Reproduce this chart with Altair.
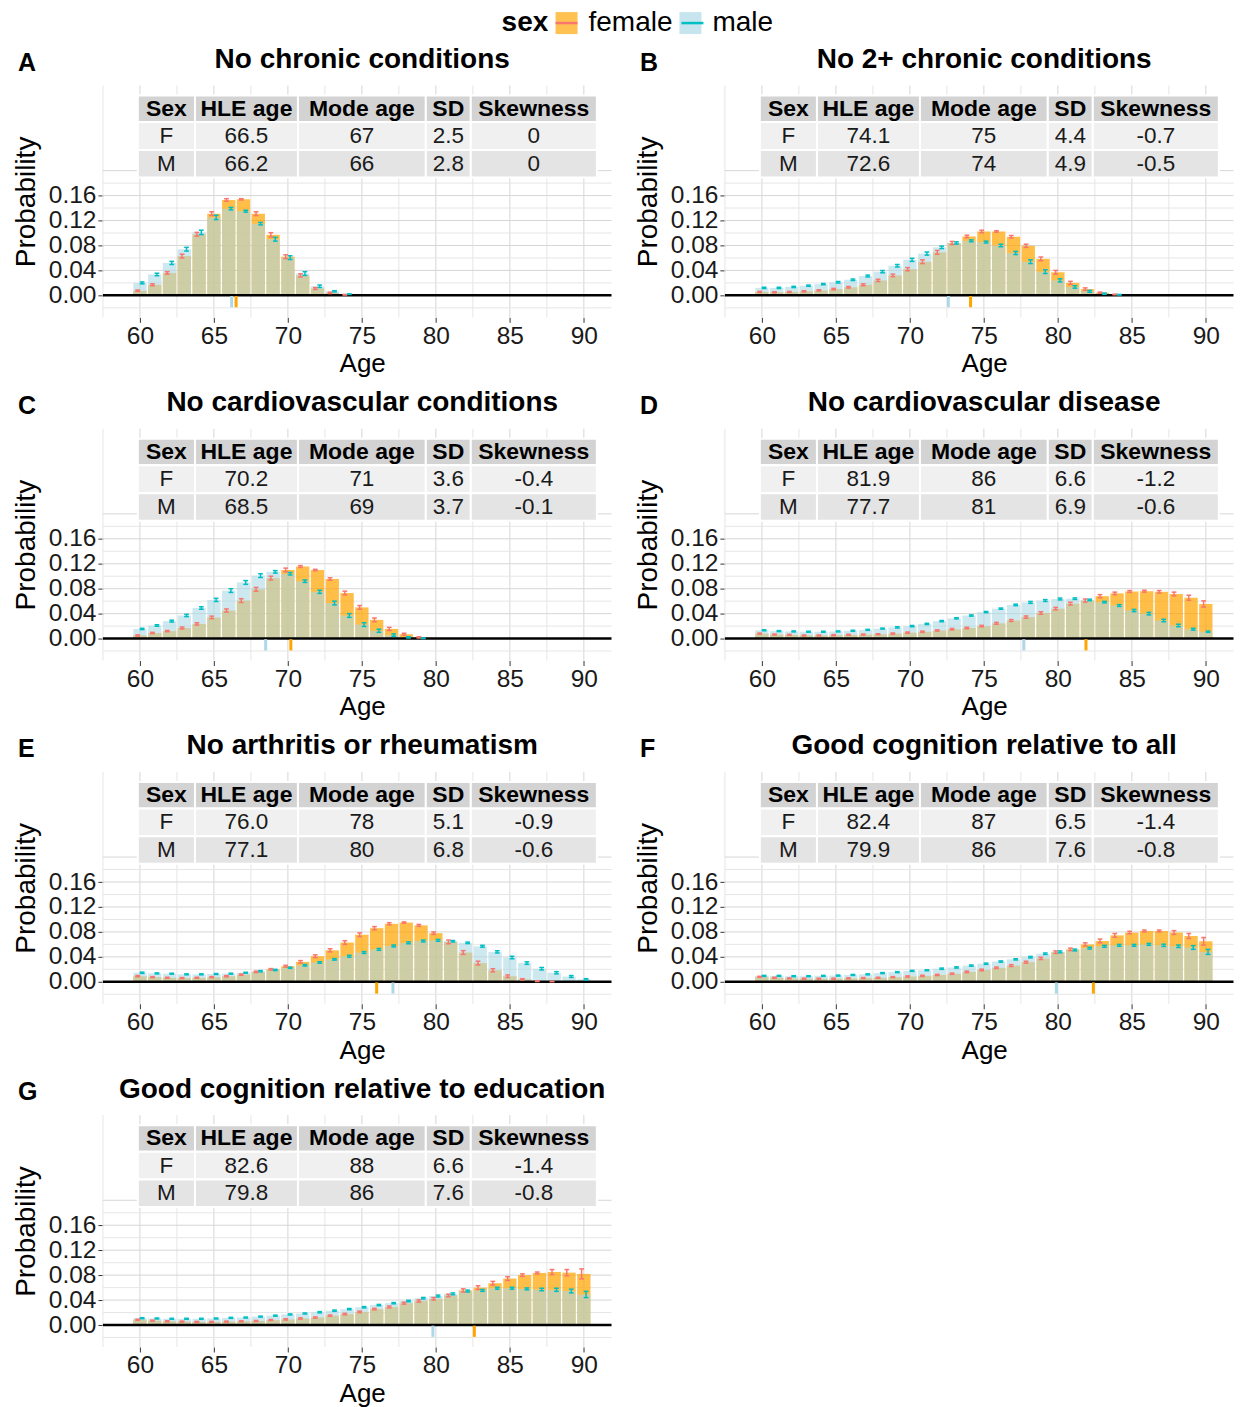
import altair as alt
import pandas as pd

FONT = "Liberation Sans"

# ---------------- data ----------------
AGES = list(range(60, 91))
SEXES = ["female", "male"]
TABLE_HEADER = ["Sex", "HLE age", "Mode age", "SD", "Skewness"]

PANEL_IDS = ["A", "B", "C", "D", "E", "F", "G"]
PANEL_TITLES = [
    "No chronic conditions",
    "No 2+ chronic conditions",
    "No cardiovascular conditions",
    "No cardiovascular disease",
    "No arthritis or rheumatism",
    "Good cognition relative to all",
    "Good cognition relative to education",
]

A_F = [0.0075, 0.017, 0.036, 0.063, 0.098, 0.131, 0.153, 0.154, 0.131, 0.097, 0.062, 0.032, 0.011, 0.004, 0.001, 0, 0, 0, 0, 0, 0, 0, 0, 0, 0, 0, 0, 0, 0, 0, 0]
A_M = [0.020, 0.0335, 0.052, 0.074, 0.101, 0.125, 0.139, 0.135, 0.115, 0.090, 0.0605, 0.035, 0.0146, 0.0065, 0.002, 0, 0, 0, 0, 0, 0, 0, 0, 0, 0, 0, 0, 0, 0, 0, 0]
A_FE = [0.001, 0.0015, 0.002, 0.003, 0.003, 0.003, 0.002, 0.001, 0.003, 0.0035, 0.003, 0.0025, 0.0015, 0.001, 0.0005, 0, 0, 0, 0, 0, 0, 0, 0, 0, 0, 0, 0, 0, 0, 0, 0]
A_ME = [0.0015, 0.002, 0.0025, 0.003, 0.0035, 0.0035, 0.002, 0.0015, 0.002, 0.003, 0.003, 0.003, 0.002, 0.001, 0.0005, 0, 0, 0, 0, 0, 0, 0, 0, 0, 0, 0, 0, 0, 0, 0, 0]
A_TAB_F = ["F", "66.5", "67", "2.5", "0"]
A_TAB_M = ["M", "66.2", "66", "2.8", "0"]

B_F = [0.0055, 0.005, 0.0055, 0.0065, 0.008, 0.010, 0.013, 0.017, 0.024, 0.032, 0.042, 0.054, 0.069, 0.084, 0.0945, 0.1025, 0.1025, 0.094, 0.0795, 0.0585, 0.037, 0.020, 0.010, 0.0043, 0.0015, 0, 0, 0, 0, 0, 0]
B_M = [0.012, 0.012, 0.0135, 0.0155, 0.018, 0.021, 0.025, 0.031, 0.038, 0.0475, 0.057, 0.067, 0.077, 0.084, 0.0875, 0.0855, 0.080, 0.068, 0.054, 0.038, 0.024, 0.0135, 0.0065, 0.0027, 0.001, 0, 0, 0, 0, 0, 0]
B_FE = [0.0008, 0.0008, 0.0008, 0.001, 0.001, 0.0012, 0.0012, 0.0015, 0.0018, 0.002, 0.0025, 0.003, 0.003, 0.0025, 0.002, 0.002, 0.0012, 0.002, 0.0025, 0.003, 0.003, 0.0025, 0.002, 0.001, 0.0005, 0, 0, 0, 0, 0, 0]
B_ME = [0.001, 0.001, 0.001, 0.001, 0.001, 0.0012, 0.0012, 0.0015, 0.0018, 0.002, 0.0025, 0.0025, 0.002, 0.0018, 0.0015, 0.0015, 0.002, 0.0025, 0.003, 0.003, 0.0025, 0.002, 0.0015, 0.001, 0.0005, 0, 0, 0, 0, 0, 0]
B_TAB_F = ["F", "74.1", "75", "4.4", "-0.7"]
B_TAB_M = ["M", "72.6", "74", "4.9", "-0.5"]

C_F = [0.005, 0.009, 0.012, 0.017, 0.0235, 0.034, 0.045, 0.061, 0.079, 0.097, 0.110, 0.1155, 0.110, 0.0955, 0.073, 0.050, 0.030, 0.0155, 0.007, 0.002, 0, 0, 0, 0, 0, 0, 0, 0, 0, 0, 0]
C_M = [0.0155, 0.021, 0.028, 0.037, 0.049, 0.062, 0.077, 0.090, 0.101, 0.107, 0.104, 0.092, 0.075, 0.057, 0.037, 0.0225, 0.0125, 0.0055, 0.002, 0.0005, 0, 0, 0, 0, 0, 0, 0, 0, 0, 0, 0]
C_FE = [0.001, 0.001, 0.001, 0.0015, 0.0018, 0.002, 0.0025, 0.003, 0.003, 0.003, 0.003, 0.0015, 0.001, 0.002, 0.003, 0.003, 0.003, 0.0025, 0.0015, 0.001, 0, 0, 0, 0, 0, 0, 0, 0, 0, 0, 0]
C_ME = [0.001, 0.0012, 0.0015, 0.0018, 0.002, 0.0025, 0.003, 0.003, 0.003, 0.002, 0.002, 0.002, 0.0025, 0.003, 0.003, 0.003, 0.0025, 0.002, 0.001, 0.0005, 0, 0, 0, 0, 0, 0, 0, 0, 0, 0, 0]
C_TAB_F = ["F", "70.2", "71", "3.6", "-0.4"]
C_TAB_M = ["M", "68.5", "69", "3.7", "-0.1"]

D_F = [0.008, 0.0065, 0.006, 0.005, 0.005, 0.0055, 0.006, 0.0065, 0.007, 0.008, 0.0095, 0.011, 0.013, 0.015, 0.017, 0.020, 0.0245, 0.029, 0.0345, 0.041, 0.048, 0.056, 0.061, 0.068, 0.0725, 0.0755, 0.076, 0.075, 0.0715, 0.0655, 0.0555]
D_M = [0.0133, 0.012, 0.0115, 0.011, 0.011, 0.0115, 0.0125, 0.014, 0.016, 0.018, 0.020, 0.0235, 0.028, 0.0325, 0.037, 0.0425, 0.048, 0.054, 0.058, 0.061, 0.0635, 0.064, 0.062, 0.0585, 0.053, 0.045, 0.040, 0.029, 0.021, 0.015, 0.011]
D_FE = [0.0008, 0.0008, 0.0008, 0.0008, 0.0008, 0.0008, 0.0008, 0.0008, 0.0008, 0.001, 0.001, 0.001, 0.001, 0.0012, 0.0012, 0.0012, 0.0015, 0.0015, 0.0018, 0.002, 0.002, 0.0022, 0.0025, 0.0025, 0.002, 0.0015, 0.0015, 0.002, 0.003, 0.004, 0.005]
D_ME = [0.0008, 0.0008, 0.0008, 0.0008, 0.0008, 0.0008, 0.0008, 0.0008, 0.0008, 0.001, 0.001, 0.001, 0.001, 0.001, 0.001, 0.001, 0.001, 0.0012, 0.0015, 0.0015, 0.0015, 0.0012, 0.0012, 0.0012, 0.0015, 0.0018, 0.002, 0.002, 0.002, 0.0015, 0.001]
D_TAB_F = ["F", "81.9", "86", "6.6", "-1.2"]
D_TAB_M = ["M", "77.7", "81", "6.9", "-0.6"]

E_F = [0.009, 0.0075, 0.0065, 0.006, 0.0065, 0.0075, 0.009, 0.0115, 0.016, 0.020, 0.025, 0.032, 0.041, 0.0505, 0.063, 0.0755, 0.086, 0.093, 0.095, 0.0905, 0.078, 0.064, 0.047, 0.030, 0.0185, 0.009, 0.004, 0.001, 0.0005, 0, 0]
E_M = [0.0145, 0.0135, 0.013, 0.012, 0.012, 0.0125, 0.013, 0.0145, 0.017, 0.019, 0.0225, 0.0265, 0.031, 0.036, 0.041, 0.047, 0.052, 0.0575, 0.0625, 0.0655, 0.0665, 0.065, 0.0625, 0.057, 0.048, 0.039, 0.030, 0.021, 0.0145, 0.0085, 0.004]
E_FE = [0.001, 0.0008, 0.0008, 0.0008, 0.0008, 0.0008, 0.001, 0.001, 0.0012, 0.0012, 0.0015, 0.002, 0.0022, 0.0025, 0.003, 0.003, 0.0025, 0.0018, 0.001, 0.0015, 0.002, 0.003, 0.003, 0.003, 0.0025, 0.002, 0.001, 0.0005, 0.0003, 0, 0]
E_ME = [0.001, 0.0008, 0.0008, 0.0008, 0.0008, 0.0008, 0.0008, 0.0008, 0.001, 0.001, 0.001, 0.0012, 0.0012, 0.0012, 0.0015, 0.0015, 0.0015, 0.0015, 0.0015, 0.0015, 0.0015, 0.0012, 0.0012, 0.0015, 0.0018, 0.002, 0.002, 0.002, 0.0018, 0.0015, 0.001]
E_TAB_F = ["F", "76.0", "78", "5.1", "-0.9"]
E_TAB_M = ["M", "77.1", "80", "6.8", "-0.6"]

F_F = [0.008, 0.0065, 0.0055, 0.005, 0.005, 0.005, 0.0055, 0.006, 0.0065, 0.0075, 0.0085, 0.0095, 0.011, 0.013, 0.016, 0.019, 0.0225, 0.026, 0.0315, 0.0375, 0.0475, 0.052, 0.060, 0.0655, 0.0745, 0.079, 0.0815, 0.0815, 0.079, 0.0735, 0.065]
F_M = [0.0095, 0.0095, 0.009, 0.009, 0.0095, 0.010, 0.011, 0.012, 0.014, 0.0155, 0.0175, 0.0185, 0.021, 0.023, 0.026, 0.029, 0.0325, 0.036, 0.0395, 0.045, 0.048, 0.051, 0.054, 0.057, 0.0585, 0.0585, 0.060, 0.0585, 0.057, 0.055, 0.048]
F_FE = [0.0008, 0.0008, 0.0008, 0.0008, 0.0008, 0.0008, 0.0008, 0.0008, 0.0008, 0.0008, 0.001, 0.001, 0.001, 0.001, 0.0012, 0.0012, 0.0012, 0.0015, 0.0015, 0.0018, 0.002, 0.002, 0.0025, 0.003, 0.003, 0.002, 0.0015, 0.0015, 0.003, 0.004, 0.006]
F_ME = [0.0008, 0.0008, 0.0008, 0.0008, 0.0008, 0.0008, 0.0008, 0.0008, 0.0008, 0.0008, 0.0008, 0.0008, 0.001, 0.001, 0.001, 0.001, 0.001, 0.001, 0.0012, 0.0012, 0.0015, 0.0015, 0.0015, 0.0015, 0.0015, 0.0015, 0.0015, 0.0018, 0.002, 0.003, 0.004]
F_TAB_F = ["F", "82.4", "87", "6.5", "-1.4"]
F_TAB_M = ["M", "79.9", "86", "7.6", "-0.8"]

G_F = [0.0085, 0.007, 0.006, 0.0055, 0.005, 0.005, 0.0055, 0.006, 0.0065, 0.008, 0.009, 0.0105, 0.012, 0.015, 0.0175, 0.021, 0.0255, 0.029, 0.035, 0.0385, 0.042, 0.0475, 0.0555, 0.060, 0.067, 0.0745, 0.080, 0.0835, 0.085, 0.084, 0.082]
G_M = [0.011, 0.0105, 0.010, 0.010, 0.010, 0.0105, 0.0115, 0.012, 0.0135, 0.015, 0.017, 0.0185, 0.0205, 0.023, 0.0255, 0.0285, 0.032, 0.035, 0.0385, 0.043, 0.0465, 0.050, 0.0545, 0.0555, 0.059, 0.059, 0.058, 0.057, 0.0565, 0.0545, 0.049]
G_FE = [0.0008, 0.0008, 0.0008, 0.0008, 0.0008, 0.0008, 0.0008, 0.0008, 0.0008, 0.0008, 0.001, 0.001, 0.001, 0.001, 0.0012, 0.0012, 0.0012, 0.0015, 0.0015, 0.0018, 0.002, 0.002, 0.0025, 0.003, 0.003, 0.003, 0.002, 0.0015, 0.004, 0.005, 0.008]
G_ME = [0.0008, 0.0008, 0.0008, 0.0008, 0.0008, 0.0008, 0.0008, 0.0008, 0.0008, 0.0008, 0.0008, 0.0008, 0.001, 0.001, 0.001, 0.001, 0.001, 0.001, 0.0012, 0.0012, 0.0015, 0.0015, 0.0015, 0.0015, 0.0015, 0.0015, 0.0015, 0.002, 0.0025, 0.003, 0.005]
G_TAB_F = ["F", "82.6", "88", "6.6", "-1.4"]
G_TAB_M = ["M", "79.8", "86", "7.6", "-0.8"]

# ---------------- layout / style ----------------
PLOT_W = 509
PLOT_H = 232
CENTER_X = 259.5  # horizontal centre used by the reference panels
X_DOMAIN = [57.5, 91.87]
Y_DOMAIN = [-0.0352, 0.3365]
X_TICKS = [60, 65, 70, 75, 80, 85, 90]
X_MINOR = [57.5, 62.5, 67.5, 72.5, 77.5, 82.5, 87.5]
Y_TICKS = [0.0, 0.04, 0.08, 0.12, 0.16]
Y_GRID_MAJOR = [0.04, 0.08, 0.12, 0.16, 0.20]
Y_GRID_MINOR = [-0.02, 0.02, 0.06, 0.10, 0.14, 0.18]
COL_EDGES = [59.86, 63.72, 70.68, 79.32, 82.36, 90.88]
ROW_EDGES = [0.3205, 0.2780, 0.2332, 0.1891]
ROW_TEXT_Y = [0.2995, 0.2556, 0.2110]
TABLE_FILLS = ["#D3D3D3", "#F0F0F0", "#E4E4E4"]
BAR_HALF = 0.45
DODGE = 0.15
CAP_HALF = 0.16

ORANGE = "#FFA500"
LIGHTBLUE = "#ADD8E6"
ERR_F = "#F8766D"
ERR_M = "#00BFC4"
GRID_MAJOR = "#D6D6D6"
GRID_MINOR = "#E6E6E6"

H_SPACING = 20.5
V_SPACING = 11.5
LEG_X = 399
LEG_Y = -76.5

FILL_SCALE = alt.Scale(domain=SEXES, range=[ORANGE, LIGHTBLUE])
STROKE_SCALE = alt.Scale(range=[ERR_F, ERR_M])
LEG_COMMON = dict(
    orient="none", legendX=LEG_X, legendY=LEG_Y, direction="horizontal",
    title="sex", titleOrient="left", titleFont=FONT, titleFontSize=28,
    titleFontWeight="bold", titleColor="black", titlePadding=4,
    labelFont=FONT, labelFontSize=28, labelColor="black", labelOffset=8,
    columnPadding=3, symbolSize=484,
)
FILL_LEGEND = alt.Legend(symbolType="square", symbolOpacity=0.68, symbolStrokeWidth=0, **LEG_COMMON)
STROKE_LEGEND = alt.Legend(symbolType="stroke", symbolStrokeWidth=2.5, labelOpacity=0, titleOpacity=0, **LEG_COMMON)


def make_panel(pid, title, fem, mal, fem_err, mal_err, tab_f, tab_m):
    assert len(fem) == len(mal) == len(fem_err) == len(mal_err) == len(AGES)
    xs = alt.Scale(domain=X_DOMAIN, nice=False, zero=False)
    ys = alt.Scale(domain=Y_DOMAIN, nice=False, zero=False)
    xax = alt.Axis(values=X_TICKS, title="Age", grid=False, domain=False, labelOverlap=False,
                   titleX=CENTER_X)
    yax = alt.Axis(values=Y_TICKS, format=".2f", title="Probability", grid=False,
                   domain=False, labelOverlap=False)

    def X(f):
        return alt.X(f, scale=xs, axis=xax)

    def Y(f):
        return alt.Y(f, scale=ys, axis=yax)

    layers = []
    # grid lines
    for vals, col in [(X_MINOR, GRID_MINOR), (X_TICKS, GRID_MAJOR)]:
        layers.append(alt.Chart(pd.DataFrame({"v": vals})).mark_rule(color=col, strokeWidth=1)
                      .encode(x=X("v:Q")))
    for vals, col in [(Y_GRID_MINOR, GRID_MINOR), (Y_GRID_MAJOR, GRID_MAJOR)]:
        layers.append(alt.Chart(pd.DataFrame({"v": vals})).mark_rule(color=col, strokeWidth=1)
                      .encode(y=Y("v:Q")))

    # summary table
    cells = []
    for r, row in enumerate([TABLE_HEADER, tab_f, tab_m]):
        for c, txt in enumerate(row):
            cells.append(dict(r=r, txt=txt, x0=COL_EDGES[c], x1=COL_EDGES[c + 1],
                              y0=ROW_EDGES[r + 1], y1=ROW_EDGES[r],
                              xc=(COL_EDGES[c] + COL_EDGES[c + 1]) / 2, yc=ROW_TEXT_Y[r]))
    cdf = pd.DataFrame(cells)
    for r, fillc in enumerate(TABLE_FILLS):
        layers.append(alt.Chart(cdf[cdf.r == r]).mark_rect(fill=fillc, stroke="white", strokeWidth=2)
                      .encode(x=X("x0:Q"), x2="x1:Q", y=Y("y0:Q"), y2="y1:Q"))
    layers.append(alt.Chart(cdf[cdf.r == 0]).mark_text(font=FONT, fontSize=23, fontWeight="bold",
                                                       color="black", baseline="middle")
                  .encode(x=X("xc:Q"), y=Y("yc:Q"), text="txt:N"))
    layers.append(alt.Chart(cdf[cdf.r > 0]).mark_text(font=FONT, fontSize=22.5, color="#1a1a1a",
                                                      baseline="middle")
                  .encode(x=X("xc:Q"), y=Y("yc:Q"), text="txt:N"))

    # bars (female first, male drawn on top)
    n = len(AGES)
    bars = pd.DataFrame({
        "age": AGES * 2,
        "sex": ["female"] * n + ["male"] * n,
        "p": fem + mal,
        "err": fem_err + mal_err,
    })
    layers.append(
        alt.Chart(bars)
        .transform_calculate(x0=f"datum.age - {BAR_HALF}", x1=f"datum.age + {BAR_HALF}")
        .mark_bar(strokeWidth=0)
        .encode(x=X("x0:Q"), x2="x1:Q", y=Y("p:Q"), y2=alt.datum(0),
                fill=alt.Fill("sex:N", scale=FILL_SCALE, legend=FILL_LEGEND),
                fillOpacity=alt.condition("datum.sex == 'female'", alt.value(0.72), alt.value(0.6)))
    )

    # zero line
    layers.append(alt.Chart(pd.DataFrame({"z": [0.0]})).mark_rule(color="black", strokeWidth=2.5)
                  .encode(y=Y("z:Q")))

    # error bars
    eb = (alt.Chart(bars).transform_filter("datum.p > 0")
          .transform_calculate(xe=f"datum.age + (datum.sex == 'female' ? {-DODGE} : {DODGE})")
          .transform_calculate(lo="datum.p - datum.err", hi="datum.p + datum.err")
          .transform_calculate(cl=f"datum.xe - {CAP_HALF}", cr=f"datum.xe + {CAP_HALF}"))
    stroke = alt.Stroke("sex:N", scale=STROKE_SCALE, legend=STROKE_LEGEND)
    layers.append(eb.mark_rule(strokeWidth=1.5).encode(x=X("xe:Q"), y=Y("lo:Q"), y2="hi:Q", stroke=stroke))
    layers.append(eb.mark_rule(strokeWidth=1.5).encode(x=X("cl:Q"), x2="cr:Q", y=Y("lo:Q"), stroke=stroke))
    layers.append(eb.mark_rule(strokeWidth=1.5).encode(x=X("cr:Q"), x2="cl:Q", y=Y("hi:Q"), stroke=stroke))

    # HLE rug marks
    rug = pd.DataFrame({"hle": [float(tab_f[1]), float(tab_m[1])], "sex": SEXES})
    layers.append(
        alt.Chart(rug).mark_rule(strokeWidth=3)
        .encode(x=X("hle:Q"), y=alt.datum(-0.001), y2=alt.datum(-0.019),
                stroke=alt.condition("datum.sex == 'female'", alt.value(ORANGE), alt.value(LIGHTBLUE)))
    )

    # panel title and letter
    layers.append(alt.Chart(pd.DataFrame({"t": [title]}))
                  .mark_text(font=FONT, fontSize=28, fontWeight="bold", color="black",
                             align="center", baseline="middle")
                  .encode(text="t:N", x=alt.value(CENTER_X), y=alt.value(-25.5)))
    layers.append(alt.Chart(pd.DataFrame({"t": [pid]}))
                  .mark_text(font=FONT, fontSize=25, fontWeight="bold", color="black",
                             align="left", baseline="middle")
                  .encode(text="t:N", x=alt.value(-85), y=alt.value(-23)))

    return alt.layer(*layers).properties(width=PLOT_W, height=PLOT_H)


pA = make_panel("A", PANEL_TITLES[0], A_F, A_M, A_FE, A_ME, A_TAB_F, A_TAB_M)
pB = make_panel("B", PANEL_TITLES[1], B_F, B_M, B_FE, B_ME, B_TAB_F, B_TAB_M)
pC = make_panel("C", PANEL_TITLES[2], C_F, C_M, C_FE, C_ME, C_TAB_F, C_TAB_M)
pD = make_panel("D", PANEL_TITLES[3], D_F, D_M, D_FE, D_ME, D_TAB_F, D_TAB_M)
pE = make_panel("E", PANEL_TITLES[4], E_F, E_M, E_FE, E_ME, E_TAB_F, E_TAB_M)
pF = make_panel("F", PANEL_TITLES[5], F_F, F_M, F_FE, F_ME, F_TAB_F, F_TAB_M)
pG = make_panel("G", PANEL_TITLES[6], G_F, G_M, G_FE, G_ME, G_TAB_F, G_TAB_M)

chart = (
    alt.vconcat(
        alt.hconcat(pA, pB, spacing=H_SPACING),
        alt.hconcat(pC, pD, spacing=H_SPACING),
        alt.hconcat(pE, pF, spacing=H_SPACING),
        pG,
        spacing=V_SPACING,
    )
    .configure(font=FONT, padding={"left": 4, "top": 0, "right": 0, "bottom": 0})
    .configure_view(stroke=None)
    .configure_axis(labelFont=FONT, labelFontSize=24.5, labelColor="#1a1a1a",
                    titleFont=FONT, titleFontWeight="normal", titleColor="black",
                    tickColor="#333333", tickSize=5, tickWidth=1, labelPadding=2)
    .configure_axisX(titlePadding=3, titleFontSize=26)
    .configure_axisY(titlePadding=8, titleFontSize=28)
)

chart.save("out.html", embed_options={"renderer": "svg", "actions": False})
